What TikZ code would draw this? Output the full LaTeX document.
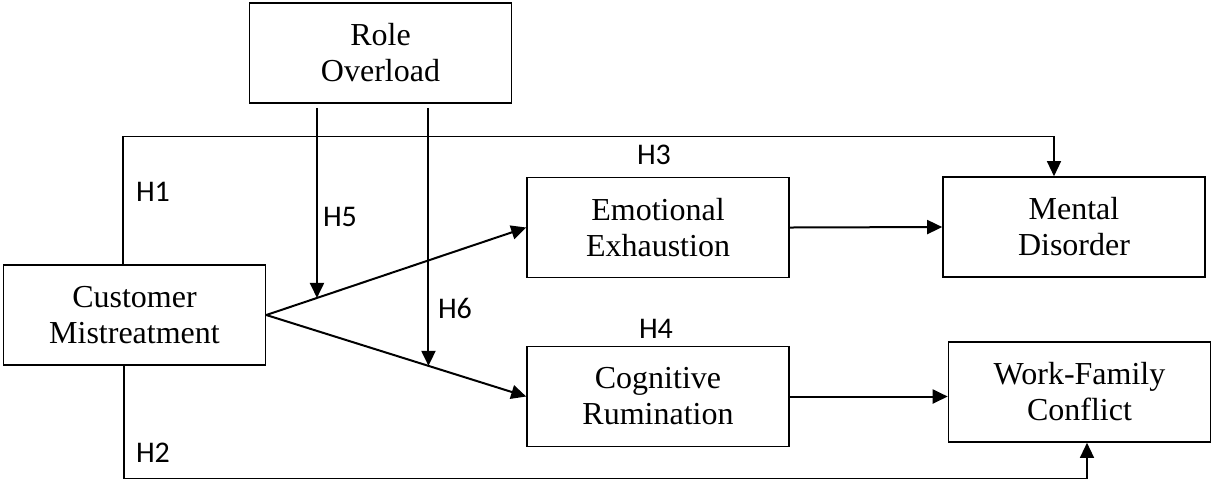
\documentclass[tikz,border=0pt]{standalone}
\usepackage{fontspec}
\setmainfont{Liberation Serif}
\newfontfamily\hfont{Carlito}
\usetikzlibrary{arrows.meta}

\begin{document}
\begin{tikzpicture}
        [x = .5pt, y = -.5pt, line width = .8pt,
         box/.style = {draw, align = center, inner sep = 0pt,
           minimum width = 131pt, minimum height = 50pt,
           font = \fontsize{16}{18}\selectfont},
         arr/.style = {line width = 1pt, -{Triangle[length = 7.5pt, width = 7pt]}},
         link/.style = {line width = .65pt, -{Triangle[length = 7.5pt, width = 7pt]}},
         hyp/.style = {font = \hfont\fontsize{15}{17}\selectfont}]

        \useasboundingbox (0,0) rectangle (1211,479);

        \node[box] (role) at (380.5,53) {Role\\Overload};
        \node[box] (cust) at (134.5,315) {Customer\\Mistreatment};
        \node[box] (emo)  at (658,227.5) {Emotional\\Exhaustion};
        \node[box] (cog)  at (658,396.5) {Cognitive\\Rumination};
        \node[box] (ment) at (1074,227) {Mental\\Disorder};
        \node[box] (wfc)  at (1079.5,392) {Work-Family\\Conflict};

        \draw[arr] (cust.east) -- (emo.west) coordinate[pos = .195] (m1);
        \draw[arr] (cust.east) -- (cog.west) coordinate[pos = .624] (m2);
        \draw[arr] (emo.east) -- (ment.west);
        \draw[arr] (cog.east) -- (cog.east -| wfc.west);

        % moderation by role overload
        \foreach \m in {m1, m2}
          \draw[arr] ([yshift = -2pt]\m |- role.south) -- (\m);

        \draw[link] ([xshift = -5.75pt]cust.north) -- ++(0,-128)
          -| ([xshift = -10pt]ment.north);
        \draw[link] ([xshift = -5.25pt]cust.south) -- ++(0,113)
          -| ([xshift = 3.75pt]wfc.south);

        \foreach \nm/\x/\y in {1/153/192, 2/153/453, 3/654/155,
                               4/656/329, 5/340/217, 6/455/308}
          \node[hyp] (h\nm) at (\x,\y) {H\nm};
      \end{tikzpicture}
\end{document}
